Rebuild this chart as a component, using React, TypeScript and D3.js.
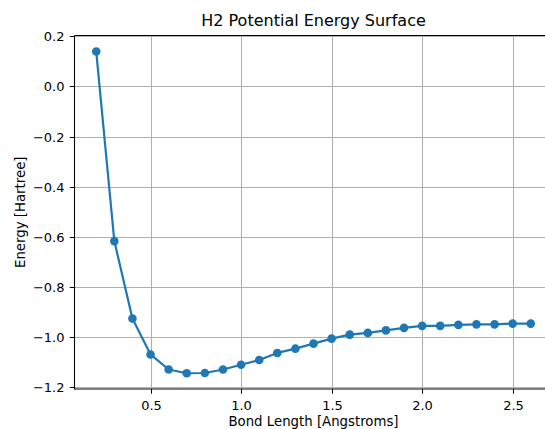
import React, { useRef, useEffect } from 'react';
import * as d3 from 'd3';

// bond lengths (Angstrom) and energies (Hartree)
const bondLengths = [0.2, 0.3, 0.4, 0.5, 0.6, 0.7, 0.8, 0.9, 1.0, 1.1, 1.2, 1.3, 1.4,
    1.5, 1.6, 1.7, 1.8, 1.9, 2.0, 2.1, 2.2, 2.3, 2.4, 2.5, 2.6];
const energies = [0.139, -0.617, -0.926, -1.069, -1.129, -1.144, -1.143, -1.129, -1.110,
    -1.091, -1.063, -1.046, -1.026, -1.006, -0.990, -0.983, -0.973, -0.963, -0.955,
    -0.955, -0.951, -0.949, -0.949, -0.946, -0.946];
const xTicks = [0.5, 1.0, 1.5, 2.0, 2.5];
const yTicks = [0.2, 0.0, -0.2, -0.4, -0.6, -0.8, -1.0, -1.2];

const W = 545, H = 429;
const BLUE = '#1f77b4';
const FONT = 'DejaVu Sans, sans-serif';

const App = () => {
    const ref = useRef<SVGSVGElement>(null);

    useEffect(() => {
        const svg = d3.select(ref.current);
        svg.selectAll('*').remove();

        const left = 74.5, right = 552.5, top = 35.5, bottom = 389;
        const x = d3.scaleLinear().domain([0.08, 2.72]).range([left, right]);
        const y = d3.scaleLinear().domain([-1.2068, 0.2048]).range([bottom, top - 0.5]);
        const fmt = (v: number) => d3.format('.1f')(v).replace('-', '\u2212');

        svg.append('rect').attr('width', W).attr('height', H).attr('fill', '#fff');

        // grid
        const grid = svg.append('g').attr('stroke', '#b0b0b0').attr('stroke-width', 1.05);
        grid.selectAll('.gx').data(xTicks).join('line')
            .attr('x1', d => Math.round(x(d)) + 0.5).attr('x2', d => Math.round(x(d)) + 0.5)
            .attr('y1', top).attr('y2', bottom);
        grid.selectAll('.gy').data(yTicks).join('line')
            .attr('y1', d => Math.round(y(d)) + 0.5).attr('y2', d => Math.round(y(d)) + 0.5)
            .attr('x1', left).attr('x2', right);

        // data
        const pts = bondLengths.map((b, i) => [b, energies[i]] as [number, number]);
        const line = d3.line<[number, number]>().x(d => x(d[0])).y(d => y(d[1]));
        svg.append('path').datum(pts)
            .attr('fill', 'none').attr('stroke', BLUE).attr('stroke-width', 2.2)
            .attr('stroke-linejoin', 'round').attr('d', line);
        svg.selectAll('.pt').data(pts).join('circle')
            .attr('cx', d => x(d[0])).attr('cy', d => y(d[1])).attr('r', 4.3)
            .attr('fill', BLUE);

        // spines
        const sp = svg.append('g').attr('stroke', '#000').attr('stroke-width', 1.05);
        sp.append('line').attr('x1', left).attr('x2', left).attr('y1', top).attr('y2', bottom + 0.5);
        sp.append('line').attr('x1', left).attr('x2', right).attr('y1', top).attr('y2', top);
        sp.append('line').attr('x1', left).attr('x2', right).attr('y1', bottom).attr('y2', bottom);

        // ticks + labels
        const tx = svg.append('g').attr('font-family', FONT).attr('font-size', 13).attr('fill', '#000');
        xTicks.forEach(t => {
            const px = Math.round(x(t)) + 0.5;
            tx.append('line').attr('x1', px).attr('x2', px).attr('y1', bottom).attr('y2', bottom + 4.7)
                .attr('stroke', '#000');
            tx.append('text').attr('x', px).attr('y', bottom + 21).attr('text-anchor', 'middle').text(fmt(t));
        });
        yTicks.forEach(t => {
            const py = Math.round(y(t)) + 0.5;
            tx.append('line').attr('x1', left - 4.7).attr('x2', left).attr('y1', py).attr('y2', py)
                .attr('stroke', '#000');
            tx.append('text').attr('x', left - 10).attr('y', py + 4.7).attr('text-anchor', 'end').text(fmt(t));
        });

        // labels
        const cx = (left + right) / 2;
        svg.append('text').attr('x', cx).attr('y', 26).attr('text-anchor', 'middle')
            .attr('font-family', FONT).attr('font-size', 16).attr('fill', '#000')
            .text('H2 Potential Energy Surface');
        svg.append('text').attr('x', cx).attr('y', 426).attr('text-anchor', 'middle')
            .attr('font-family', FONT).attr('font-size', 13.3).attr('fill', '#000')
            .text('Bond Length [Angstroms]');
        svg.append('text').attr('transform', `translate(24.5,${(top + bottom) / 2}) rotate(-90)`)
            .attr('text-anchor', 'middle')
            .attr('font-family', FONT).attr('font-size', 13.3).attr('fill', '#000')
            .text('Energy [Hartree]');
    }, []);

    return <svg ref={ref} width={W} height={H} style={{ position: 'absolute', left: 0, top: 0 }}></svg>;
};

export default App;
